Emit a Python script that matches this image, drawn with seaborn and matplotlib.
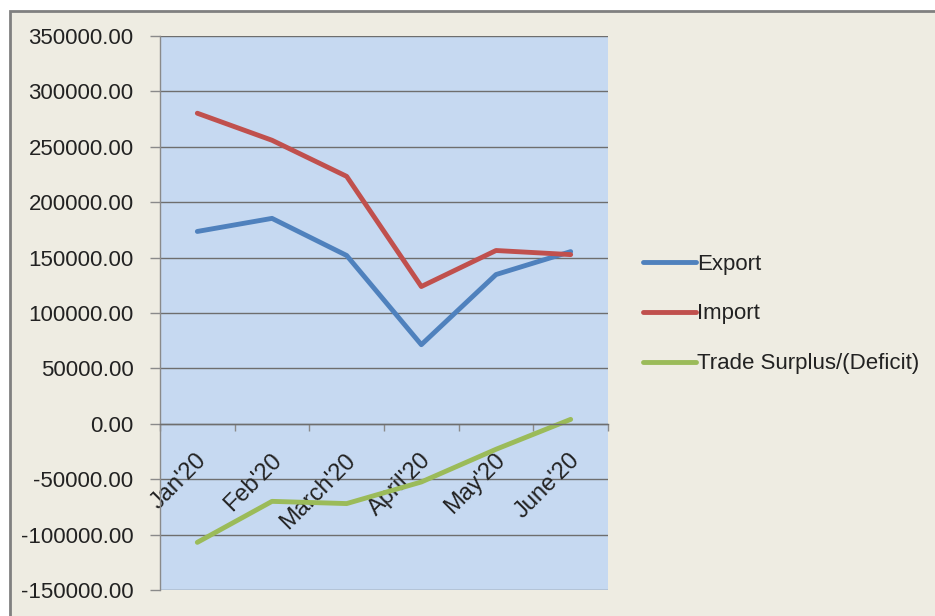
import matplotlib
matplotlib.use("Agg")
import matplotlib.pyplot as plt
import matplotlib.patches as mpatches
import matplotlib.transforms as mtransforms
from matplotlib.ticker import FuncFormatter, FixedLocator
import seaborn as sns
import pandas as pd

months = ["Jan'20", "Feb'20", "March'20", "April'20", "May'20", "June'20"]
export = [173600, 185400, 151900, 71400, 134700, 155400]
imports = [280300, 255900, 223300, 123900, 156400, 152700]
trade = [-107000, -70000, -72000, -52500, -23000, 4000]
series_names = ["Export", "Import", "Trade Surplus/(Deficit)"]
colors = ["#4F81BD", "#C0504D", "#9BBB59"]
yticks = list(range(-150000, 350001, 50000))

df = pd.DataFrame({
    "Month": months * 3,
    "Value": export + imports + trade,
    "Series": [series_names[0]] * 6 + [series_names[1]] * 6 + [series_names[2]] * 6,
})

sns.set_theme(style="white")
plt.rcParams["font.family"] = ["Liberation Sans Narrow", "Liberation Sans", "DejaVu Sans"]

W, H = 935, 616
fig = plt.figure(figsize=(W / 100, H / 100), dpi=100, facecolor="white")

# chart area frame (beige)
bg = mpatches.Rectangle((10 / W, -0.05), 1.1, 1.05 - 11 / H, transform=fig.transFigure,
                        facecolor="#EEECE2", edgecolor="#808080", linewidth=2, zorder=-5)
fig.patches.append(bg)

left, right = 160 / W, 608 / W
bottom, top = (H - 590) / H, (H - 36) / H
ax = fig.add_axes([left, bottom, right - left, top - bottom])
ax.set_zorder(2)
ax.set_facecolor("#C6D9F1")

sns.lineplot(data=df, x="Month", y="Value", hue="Series", palette=colors,
             sort=False, linewidth=3.5, ax=ax, legend=True)

ax.set_xlim(-0.5, 5.5)
ax.set_ylim(-150000, 350000)
ax.set_yticks(yticks)
ax.yaxis.set_major_formatter(FuncFormatter(lambda v, p: f"{v:.2f}"))
for y in yticks:
    ax.axhline(y, color="#6E6E6E", linewidth=1, zorder=0.5)

ax.set_xlabel("")
ax.set_ylabel("")
for s in ["top", "right"]:
    ax.spines[s].set_visible(False)
ax.spines["left"].set_color("#8A8A8A")
ax.spines["left"].set_linewidth(1)
ax.spines["bottom"].set_position(("data", 0))
ax.spines["bottom"].set_color("#6E6E6E")
ax.spines["bottom"].set_linewidth(1)

ax.tick_params(axis="y", which="major", length=7, width=1, color="#8A8A8A",
               labelsize=16, labelcolor="#222222", pad=12, left=True)
ax.set_xticks(range(len(months)))
ax.set_xticklabels(months)
ax.xaxis.set_minor_locator(FixedLocator([i + 0.5 for i in range(-1, 6)]))
ax.tick_params(axis="x", which="major", length=0, pad=24, labelsize=17,
               labelcolor="#222222")
ax.tick_params(axis="x", which="minor", length=5, width=1, color="#8A8A8A",
               direction="out", bottom=True)
offset = mtransforms.ScaledTranslation(6 / 100, 0, fig.dpi_scale_trans)
for lab in ax.get_xticklabels():
    lab.set_rotation(45)
    lab.set_ha("right")
    lab.set_va("center")
    lab.set_rotation_mode("anchor")
    lab.set_transform(lab.get_transform() + offset)

handles, labels = ax.get_legend_handles_labels()
ax.get_legend().remove()
leg = fig.legend(handles, labels, loc="center left",
                 bbox_to_anchor=(643 / W, (H - 314) / H), frameon=False,
                 fontsize=16, handlelength=2.4, handletextpad=0.05,
                 labelspacing=1.3, borderpad=0, borderaxespad=0)
for t in leg.get_texts():
    t.set_color("#222222")
for l in leg.get_lines():
    l.set_linewidth(3.5)

fig.savefig("out.png", dpi=100, facecolor=fig.get_facecolor())
